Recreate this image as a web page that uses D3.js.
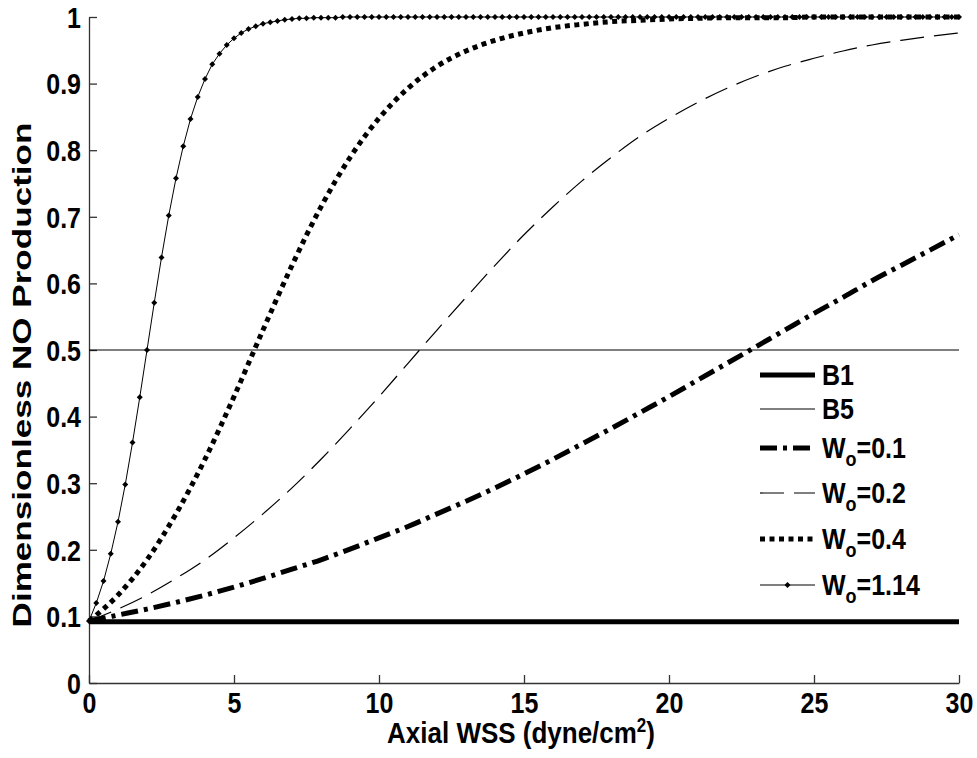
<!DOCTYPE html>
<meta charset="utf-8" />
<style>
    body {
        margin: 0;
        background: #fff;
    }

    text {
        font-family: "Liberation Sans", Arial, sans-serif;
        font-weight: bold;
        fill: #000;
    }

    .axis path,
    .axis line {
        stroke: #333;
        stroke-width: 1.3px;
    }
</style>

<svg width="977" height="758"></svg>

<script src="https://d3js.org/d3.v7.min.js"></script>
<script>
    // tick values and labels
    const xTicks = [0, 5, 10, 15, 20, 25, 30];
    const yTicks = [0, 0.1, 0.2, 0.3, 0.4, 0.5, 0.6, 0.7, 0.8, 0.9, 1];
    const yTickLabels = ['0', '0.1', '0.2', '0.3', '0.4', '0.5', '0.6', '0.7', '0.8', '0.9', '1'];

    // baseline levels B1 / B5
    const bandX = [0, 30];
    const b1 = [0.092, 0.092];
    const b5 = [0.5, 0.5];

    // W curves sampled every 1 dyne/cm2
    const xWhole = [0, 1, 2, 3, 4, 5, 6, 7, 8, 9, 10, 11, 12, 13, 14, 15,
        16, 17, 18, 19, 20, 21, 22, 23, 24, 25, 26, 27, 28, 29, 30];
    const w01 = [0.093, 0.102, 0.111, 0.121, 0.132, 0.144, 0.157, 0.171, 0.185, 0.201, 0.218,
        0.235, 0.254, 0.273, 0.293, 0.314, 0.336, 0.359, 0.382, 0.406, 0.430,
        0.455, 0.480, 0.505, 0.530, 0.555, 0.579, 0.604, 0.627, 0.650, 0.673];
    const w02 = [0.093, 0.111, 0.132, 0.157, 0.185, 0.218, 0.254, 0.293, 0.336, 0.382, 0.430,
        0.480, 0.530, 0.579, 0.627, 0.673, 0.715, 0.754, 0.789, 0.821, 0.848,
        0.872, 0.893, 0.911, 0.926, 0.938, 0.949, 0.958, 0.965, 0.971, 0.976];
    const w04 = [0.093, 0.132, 0.185, 0.254, 0.336, 0.430, 0.530, 0.627, 0.715, 0.789, 0.848,
        0.893, 0.926, 0.949, 0.965, 0.976, 0.984, 0.989, 0.993, 0.995, 0.997,
        0.998, 0.999, 0.999, 0.999, 1, 1, 1, 1, 1, 1];

    // W=1.14 sampled every 0.25 (one marker per sample)
    const xQuarter = [
        0, 0.25, 0.5, 0.75, 1, 1.25, 1.5, 1.75, 2, 2.25,
        2.5, 2.75, 3, 3.25, 3.5, 3.75, 4, 4.25, 4.5, 4.75,
        5, 5.25, 5.5, 5.75, 6, 6.25, 6.5, 6.75, 7, 7.25,
        7.5, 7.75, 8, 8.25, 8.5, 8.75, 9, 9.25, 9.5, 9.75,
        10, 10.25, 10.5, 10.75, 11, 11.25, 11.5, 11.75, 12, 12.25,
        12.5, 12.75, 13, 13.25, 13.5, 13.75, 14, 14.25, 14.5, 14.75,
        15, 15.25, 15.5, 15.75, 16, 16.25, 16.5, 16.75, 17, 17.25,
        17.5, 17.75, 18, 18.25, 18.5, 18.75, 19, 19.25, 19.5, 19.75,
        20, 20.25, 20.5, 20.75, 21, 21.25, 21.5, 21.75, 22, 22.25,
        22.5, 22.75, 23, 23.25, 23.5, 23.75, 24, 24.25, 24.5, 24.75,
        25, 25.25, 25.5, 25.75, 26, 26.25, 26.5, 26.75, 27, 27.25,
        27.5, 27.75, 28, 28.25, 28.5, 28.75, 29, 29.25, 29.5, 29.75,
        30];
    const w114 = [
        0.093, 0.120, 0.153, 0.194, 0.242, 0.298, 0.361, 0.429, 0.500, 0.571,
        0.639, 0.702, 0.758, 0.806, 0.847, 0.880, 0.907, 0.929, 0.945, 0.958,
        0.968, 0.976, 0.982, 0.986, 0.990, 0.992, 0.994, 0.996, 0.997, 0.998,
        0.998, 0.999, 0.999, 0.999, 0.999, 1, 1, 1, 1, 1,
        1, 1, 1, 1, 1, 1, 1, 1, 1, 1,
        1, 1, 1, 1, 1, 1, 1, 1, 1, 1,
        1, 1, 1, 1, 1, 1, 1, 1, 1, 1,
        1, 1, 1, 1, 1, 1, 1, 1, 1, 1,
        1, 1, 1, 1, 1, 1, 1, 1, 1, 1,
        1, 1, 1, 1, 1, 1, 1, 1, 1, 1,
        1, 1, 1, 1, 1, 1, 1, 1, 1, 1,
        1, 1, 1, 1, 1, 1, 1, 1, 1, 1,
        1];

    const legendNames = ['B1', 'B5', 'W_o=0.1', 'W_o=0.2', 'W_o=0.4', 'W_o=1.14'];

    function draw() {
        const svg = d3.select('svg');

        const x = d3.scaleLinear().domain([0, 30]).range([89, 959]);
        const y = d3.scaleLinear().domain([0, 1]).range([683, 17]);

        // the source figure is drawn with tall, narrow lettering
        const stretch = 1.15;

        const styles = {
            b1: { width: 5, dash: null },
            b5: { width: 1.2, dash: null },
            w01: { width: 5, dash: '17,6,4,6' },
            w02: { width: 1.2, dash: '24,10' },
            w04: { width: 5, dash: '5,4.5' },
            w114: { width: 1, dash: null },
        };

        const series = [
            { key: 'b1', xs: bandX, ys: b1 },
            { key: 'b5', xs: bandX, ys: b5 },
            { key: 'w02', xs: xWhole, ys: w02 },
            { key: 'w01', xs: xWhole, ys: w01 },
            { key: 'w04', xs: xWhole, ys: w04 },
            { key: 'w114', xs: xQuarter, ys: w114 },
        ];

        const smooth = d3.line().x(d => x(d[0])).y(d => y(d[1])).curve(d3.curveMonotoneX);
        const straight = d3.line().x(d => x(d[0])).y(d => y(d[1]));

        // axes
        svg.append('g')
            .attr('class', 'axis')
            .attr('transform', `translate(0,${y(0)})`)
            .call(d3.axisBottom(x).tickValues(xTicks).tickSize(-8).tickSizeOuter(0).tickPadding(8))
            .selectAll('text')
            .attr('font-size', '25px')
            .attr('font-family', null)
            .attr('transform', `scale(1,${stretch})`);

        svg.append('g')
            .attr('class', 'axis')
            .attr('transform', `translate(${x(0)},0)`)
            .call(d3.axisLeft(y).tickValues(yTicks).tickFormat((d, i) => yTickLabels[i])
                .tickSize(-8).tickSizeOuter(0).tickPadding(8))
            .selectAll('text')
            .attr('font-size', '25px')
            .attr('font-family', null)
            .attr('dy', '0.36em')
            .attr('transform', `scale(1,${stretch})`);

        svg.selectAll('.axis .domain').attr('stroke', '#333');

        // curves
        series.forEach(s => {
            const pts = s.xs.map((v, i) => [v, s.ys[i]]);
            const st = styles[s.key];
            svg.append('path')
                .datum(pts)
                .attr('fill', 'none')
                .attr('stroke', '#000')
                .attr('stroke-width', st.width)
                .attr('stroke-dasharray', st.dash)
                .attr('d', s.key === 'w114' ? straight(pts) : smooth(pts));
        });

        const marker = d3.symbol().type(d3.symbolSquare).size(18);
        svg.append('g')
            .selectAll('path')
            .data(xQuarter.map((v, i) => [v, w114[i]]))
            .join('path')
            .attr('d', marker)
            .attr('fill', '#000')
            .attr('transform', d => `translate(${x(d[0])},${y(d[1])}) rotate(45)`);

        // axis titles
        const xTitle = svg.append('text')
            .attr('transform', `translate(521,743) scale(1,${stretch})`)
            .attr('text-anchor', 'middle')
            .attr('font-size', '26px');
        xTitle.append('tspan').text('Axial WSS (dyne/cm');
        xTitle.append('tspan').attr('dy', -10).attr('font-size', '17px').text('2');
        xTitle.append('tspan').attr('dy', 10).text(')');

        svg.append('text')
            .attr('transform', `translate(31,375) scale(1,1.35) rotate(-90)`)
            .attr('text-anchor', 'middle')
            .attr('font-size', '26px')
            .text('Dimensionless NO Production');

        // legend
        const legendKeys = ['b1', 'b5', 'w01', 'w02', 'w04', 'w114'];
        const legendRows = [375, 409, 448, 493, 539, 585];
        const lg = svg.append('g');
        legendNames.forEach((name, i) => {
            const st = styles[legendKeys[i]];
            const ly = legendRows[i];
            lg.append('line')
                .attr('x1', 760).attr('x2', 815)
                .attr('y1', ly).attr('y2', ly)
                .attr('stroke', '#000')
                .attr('stroke-width', st.width)
                .attr('stroke-dasharray', st.dash);
            if (legendKeys[i] === 'w114') {
                lg.append('path')
                    .attr('d', marker)
                    .attr('transform', `translate(787.5,${ly}) rotate(45)`);
            }
            const t = lg.append('text')
                .attr('transform', `translate(822,${ly}) scale(1,${stretch})`)
                .attr('y', 9)
                .attr('font-size', '25px');
            if (name.includes('_o')) {
                const parts = name.split('_o');
                t.append('tspan').text(parts[0]);
                t.append('tspan').attr('dy', 7).attr('font-size', '18px').text('o');
                t.append('tspan').attr('dy', -7).text(parts[1]);
            } else {
                t.text(name);
            }
        });
    }

    draw();
</script>
